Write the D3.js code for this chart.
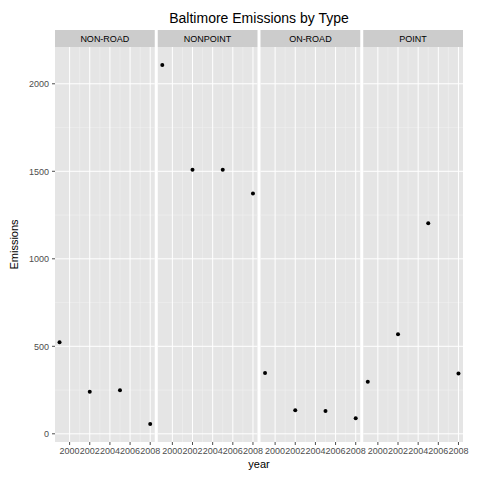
<!DOCTYPE html>
<html><head><meta charset="utf-8">
<script src="https://cdn.jsdelivr.net/npm/d3@7"></script>
<style>body{margin:0;background:#fff}text{font-family:"Liberation Sans",Arial,sans-serif}</style>
</head><body>
<script>
var types = ["NON-ROAD", "NONPOINT", "ON-ROAD", "POINT"];
var years = [1999, 2002, 2005, 2008];
var nonRoad = [522.9, 240.8, 248.9, 55.8];
var nonPoint = [2107.6, 1509.5, 1509.5, 1373.2];
var onRoad = [346.8, 134.3, 130.4, 88.3];
var point = [296.8, 569.3, 1202.5, 345.0];
var series = [nonRoad, nonPoint, onRoad, point];
var xTicks = [2000, 2002, 2004, 2006, 2008];
var yTicks = [0, 500, 1000, 1500, 2000];

var W = 480, H = 480;
var pLeft = 55, pRight = 463, pTop = 30, stripH = 17, pBottom = 442, gap = 3;
var pw = (pRight - pLeft - gap * 3) / 4;

var svg = d3.select("body").append("svg").attr("width", W).attr("height", H);

var y = d3.scaleLinear().domain([-46.8, 2210.2]).range([pBottom, pTop + stripH]);

svg.append("text").attr("x", (pLeft + pRight) / 2).attr("y", 23).attr("text-anchor", "middle")
  .attr("font-size", 14).text("Baltimore Emissions by Type");

yTicks.forEach(function(t) {
  svg.append("text").attr("x", pLeft - 6).attr("y", y(t) + 3.5).attr("text-anchor", "end")
    .attr("font-size", 9).attr("fill", "#4d4d4d").text(t);
  svg.append("line").attr("x1", pLeft - 3).attr("x2", pLeft).attr("y1", y(t)).attr("y2", y(t))
    .attr("stroke", "#4d4d4d");
});

types.forEach(function(name, i) {
  var x0 = pLeft + i * (pw + gap);
  var x = d3.scaleLinear().domain([1999 - 0.45, 2008 + 0.45]).range([x0, x0 + pw]);
  var g = svg.append("g");
  g.append("rect").attr("x", x0).attr("y", pTop).attr("width", pw).attr("height", stripH).attr("fill", "#cccccc");
  g.append("text").attr("x", x0 + pw / 2).attr("y", pTop + 12).attr("text-anchor", "middle")
    .attr("font-size", 9).text(name);
  g.append("rect").attr("x", x0).attr("y", pTop + stripH).attr("width", pw).attr("height", pBottom - pTop - stripH)
    .attr("fill", "#e5e5e5");
  [250, 750, 1250, 1750].forEach(function(t) {
    g.append("line").attr("x1", x0).attr("x2", x0 + pw).attr("y1", y(t)).attr("y2", y(t))
      .attr("stroke", "#f2f2f2").attr("stroke-width", 0.5);
  });
  [2001, 2003, 2005, 2007].forEach(function(t) {
    g.append("line").attr("x1", x(t)).attr("x2", x(t)).attr("y1", pTop + stripH).attr("y2", pBottom)
      .attr("stroke", "#f2f2f2").attr("stroke-width", 0.5);
  });
  yTicks.forEach(function(t) {
    g.append("line").attr("x1", x0).attr("x2", x0 + pw).attr("y1", y(t)).attr("y2", y(t))
      .attr("stroke", "#fff");
  });
  xTicks.forEach(function(t) {
    g.append("line").attr("x1", x(t)).attr("x2", x(t)).attr("y1", pTop + stripH).attr("y2", pBottom)
      .attr("stroke", "#fff");
    g.append("line").attr("x1", x(t)).attr("x2", x(t)).attr("y1", pBottom).attr("y2", pBottom + 3)
      .attr("stroke", "#4d4d4d");
    g.append("text").attr("x", x(t)).attr("y", pBottom + 12).attr("text-anchor", "middle")
      .attr("font-size", 9).attr("fill", "#4d4d4d").text(t);
  });
  g.selectAll("circle").data(series[i]).enter().append("circle")
    .attr("cx", function(d, j) { return x(years[j]); })
    .attr("cy", function(d) { return y(d); })
    .attr("r", 2).attr("fill", "#000");
});

svg.append("text").attr("x", (pLeft + pRight) / 2).attr("y", 468).attr("text-anchor", "middle")
  .attr("font-size", 11).text("year");
svg.append("text").attr("transform", "translate(18," + ((pTop + stripH + pBottom) / 2) + ") rotate(-90)")
  .attr("text-anchor", "middle").attr("font-size", 11).text("Emissions");
</script>
</body></html>
